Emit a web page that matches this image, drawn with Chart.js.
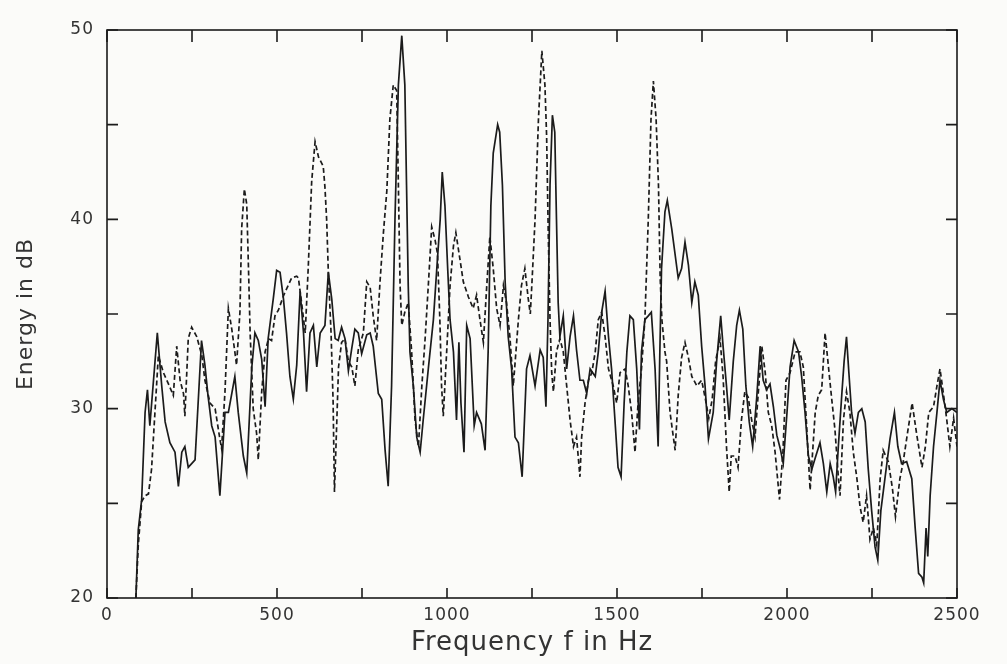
<!DOCTYPE html>
<html lang="en">
<head>
    <meta charset="utf-8" />
    <title>Energy spectrum</title>
    <style>
        html, body {
            margin: 0;
            padding: 0;
            background-color: #fbfbf9;
        }

        #spectrum {
            display: block;
        }
    </style>
</head>
<body>
    <canvas id="spectrum" width="1007" height="664"></canvas>

    <script src="https://cdn.jsdelivr.net/npm/chart.js@4.4.1/dist/chart.umd.min.js"></script>
    <script type="text/JavaScript">

        // solid curve
        var solidFreq = [85, 92, 102, 112, 119, 126, 148, 161, 171, 185, 200, 210, 220, 229, 239, 259, 278, 288, 297, 308,
            318, 332, 347, 357, 376, 386, 401, 411, 426, 435, 445, 455, 465, 474, 489, 499, 509, 519, 528, 538,
            548, 558, 568, 578, 587, 597, 607, 617, 627, 641, 651, 661, 671, 680, 690, 700, 710, 720, 729, 739,
            749, 764, 774, 783, 798, 808, 818, 827, 837, 847, 857, 867, 876, 881, 886, 891, 901, 911, 921, 930,
            945, 960, 970, 980, 986, 994, 1002, 1009, 1019, 1028, 1035, 1041, 1050, 1058, 1068, 1080, 1087, 1101, 1112, 1121,
            1129, 1136, 1149, 1155, 1163, 1171, 1180, 1190, 1200, 1210, 1221, 1234, 1244, 1259, 1274, 1283, 1291, 1297, 1303, 1310,
            1317, 1322, 1327, 1332, 1342, 1352, 1362, 1372, 1381, 1391, 1401, 1411, 1421, 1436, 1445, 1455, 1465, 1475, 1484, 1494,
            1503, 1512, 1521, 1529, 1538, 1548, 1558, 1566, 1572, 1582, 1592, 1601, 1612, 1621, 1626, 1631, 1641, 1648, 1661, 1680,
            1690, 1700, 1710, 1720, 1729, 1739, 1749, 1759, 1769, 1783, 1793, 1805, 1812, 1822, 1830, 1842, 1852, 1860, 1870, 1879,
            1889, 1899, 1911, 1921, 1930, 1940, 1950, 1960, 1970, 1980, 1989, 2000, 2009, 2021, 2034, 2043, 2053, 2063, 2073, 2083,
            2097, 2107, 2117, 2127, 2136, 2143, 2151, 2161, 2168, 2175, 2182, 2190, 2200, 2210, 2220, 2230, 2239, 2249, 2259, 2267,
            2276, 2288, 2303, 2316, 2326, 2337, 2352, 2367, 2377, 2387, 2397, 2402, 2409, 2414, 2421, 2431, 2441, 2450, 2460, 2470,
            2485, 2500];
        var solidDb = [20.0, 23.6, 25.2, 29.8, 31.0, 29.1, 34.0, 31.2, 29.3, 28.2, 27.7, 25.9, 27.7, 28.0, 26.9, 27.3, 33.6, 32.3, 30.7, 29.1,
            28.5, 25.4, 29.8, 29.8, 31.7, 29.8, 27.5, 26.6, 32.2, 34.0, 33.6, 32.6, 30.1, 33.7, 35.8, 37.3, 37.2, 35.8, 34.0, 31.7,
            30.5, 32.3, 36.2, 34.0, 30.9, 34.0, 34.4, 32.2, 34.0, 34.4, 37.2, 35.8, 33.7, 33.6, 34.3, 33.7, 32.0, 33.2, 34.2, 34.0,
            32.9, 33.9, 34.0, 33.3, 30.8, 30.5, 27.8, 25.9, 31.2, 40.0, 47.1, 49.7, 47.1, 41.8, 36.5, 33.0, 31.2, 28.5, 27.7, 29.4,
            32.1, 34.7, 37.4, 40.0, 42.5, 40.7, 37.4, 34.7, 33.0, 29.4, 33.5, 30.3, 27.7, 34.4, 33.7, 29.1, 29.8, 29.2, 27.8, 33.0,
            40.7, 43.5, 45.0, 44.6, 41.8, 36.7, 33.8, 32.1, 28.5, 28.2, 26.4, 32.1, 32.8, 31.2, 33.1, 32.7, 30.1, 34.7, 41.8, 45.5,
            44.6, 40.0, 35.6, 33.8, 34.9, 32.1, 33.8, 34.9, 33.1, 31.5, 31.5, 30.8, 32.1, 31.7, 33.0, 35.1, 36.2, 33.8, 32.1, 29.4,
            26.9, 26.4, 30.3, 33.0, 34.9, 34.7, 32.1, 28.9, 33.0, 34.7, 34.9, 35.1, 32.1, 28.0, 33.0, 37.4, 40.4, 41.0, 39.5, 36.9,
            37.4, 38.8, 37.6, 35.6, 36.7, 36.0, 33.3, 31.2, 28.4, 29.8, 32.5, 34.9, 33.3, 31.2, 29.4, 32.5, 34.4, 35.2, 34.2, 31.2,
            29.3, 28.0, 30.6, 33.3, 31.5, 31.0, 31.3, 30.1, 28.6, 27.9, 27.1, 29.8, 32.2, 33.6, 33.0, 31.7, 29.8, 27.5, 26.8, 27.4,
            28.2, 27.1, 25.6, 27.1, 26.4, 25.6, 28.0, 30.7, 32.5, 33.8, 31.9, 29.8, 28.7, 29.8, 30.0, 29.3, 26.8, 24.6, 22.7, 22.0,
            24.6, 26.3, 28.4, 29.8, 28.0, 27.1, 27.2, 26.3, 23.7, 21.3, 21.1, 20.8, 23.7, 22.2, 25.4, 28.0, 29.8, 31.5, 30.5, 29.8,
            30.0, 29.8];

        // dashed curve
        var dashFreq = [85, 92, 102, 112, 122, 131, 141, 151, 166, 181, 195, 205, 215, 225, 229, 239, 249, 264, 279, 288,
            303, 318, 332, 337, 347, 357, 367, 376, 381, 391, 396, 404, 411, 416, 421, 430, 440, 445, 455, 465,
            475, 484, 494, 504, 520, 543, 558, 563, 573, 583, 592, 602, 612, 622, 636, 641, 646, 651, 659, 665,
            669, 676, 681, 690, 700, 710, 720, 729, 739, 754, 764, 774, 783, 793, 803, 813, 823, 832, 842, 852,
            857, 862, 867, 876, 886, 896, 906, 916, 926, 936, 945, 955, 965, 972, 979, 984, 989, 999, 1009, 1019,
            1026, 1038, 1048, 1063, 1077, 1087, 1097, 1107, 1117, 1126, 1136, 1146, 1156, 1166, 1175, 1185, 1195, 1210, 1219, 1229,
            1239, 1245, 1250, 1259, 1269, 1279, 1288, 1293, 1298, 1303, 1308, 1313, 1322, 1332, 1342, 1352, 1362, 1372, 1381, 1391,
            1396, 1406, 1416, 1426, 1436, 1445, 1455, 1465, 1475, 1489, 1499, 1509, 1524, 1533, 1543, 1553, 1562, 1572, 1582, 1592,
            1600, 1607, 1615, 1622, 1627, 1632, 1641, 1646, 1656, 1671, 1680, 1690, 1700, 1710, 1720, 1735, 1749, 1760, 1770, 1780,
            1790, 1803, 1812, 1822, 1830, 1836, 1847, 1856, 1866, 1876, 1886, 1896, 1906, 1915, 1926, 1936, 1945, 1955, 1965, 1978,
            1988, 1997, 2009, 2024, 2038, 2048, 2058, 2068, 2083, 2092, 2102, 2112, 2122, 2131, 2141, 2151, 2156, 2166, 2175, 2185,
            2195, 2205, 2215, 2224, 2234, 2244, 2254, 2264, 2274, 2283, 2298, 2310, 2319, 2332, 2341, 2356, 2368, 2381, 2397, 2407,
            2417, 2431, 2441, 2450, 2460, 2470, 2479, 2490, 2500];
        var dashDb = [20.0, 22.8, 25.1, 25.4, 25.5, 26.8, 29.8, 32.8, 31.9, 31.3, 30.7, 33.3, 31.5, 30.8, 29.6, 33.7, 34.3, 33.8, 32.8, 31.5,
            30.3, 30.0, 28.4, 27.9, 30.9, 35.3, 34.2, 33.0, 32.3, 35.1, 39.5, 41.6, 40.8, 37.5, 34.0, 30.0, 28.7, 27.3, 30.9, 33.0,
            33.7, 33.6, 34.9, 35.2, 36.0, 36.9, 37.0, 36.9, 35.5, 34.0, 37.5, 42.0, 44.1, 43.3, 42.8, 41.7, 40.0, 37.2, 34.0, 30.4,
            25.6, 29.4, 32.2, 33.5, 33.7, 32.5, 32.2, 31.2, 33.1, 34.0, 36.7, 36.4, 34.9, 33.6, 36.7, 39.3, 41.5, 45.3, 47.1, 46.8,
            41.8, 36.5, 34.4, 35.1, 35.6, 33.0, 29.4, 28.0, 31.2, 33.8, 36.5, 39.6, 38.9, 38.2, 34.7, 31.2, 29.6, 33.0, 36.5, 38.6,
            39.3, 37.9, 36.7, 35.9, 35.3, 36.0, 34.7, 33.5, 36.5, 39.1, 37.4, 35.3, 34.4, 36.5, 35.6, 33.8, 31.2, 34.7, 36.5, 37.4,
            35.8, 35.0, 36.7, 40.0, 45.3, 48.9, 47.1, 44.4, 39.1, 34.7, 31.9, 30.9, 33.0, 33.7, 33.0, 31.2, 29.4, 28.0, 28.5, 26.4,
            28.5, 30.3, 31.5, 31.9, 33.0, 34.7, 35.1, 33.8, 32.1, 31.2, 30.3, 31.9, 32.1, 31.2, 29.8, 27.7, 30.3, 32.1, 34.7, 40.0,
            45.3, 47.3, 45.3, 41.8, 36.9, 34.7, 33.0, 32.5, 29.8, 27.8, 30.7, 32.7, 33.5, 32.7, 31.7, 31.2, 31.5, 30.5, 29.5, 30.5,
            32.5, 33.7, 31.7, 28.0, 25.6, 27.5, 27.5, 26.9, 29.4, 30.9, 30.6, 29.4, 28.5, 30.7, 33.3, 31.9, 29.8, 29.1, 27.7, 25.2,
            27.7, 31.5, 31.9, 33.0, 33.0, 32.2, 29.0, 25.7, 29.8, 30.7, 31.0, 34.0, 32.2, 30.6, 28.9, 26.4, 25.4, 29.4, 30.9, 29.8,
            27.7, 26.4, 24.8, 24.0, 25.4, 23.1, 23.7, 22.8, 26.3, 27.8, 27.2, 25.8, 24.3, 26.3, 27.1, 28.9, 30.3, 28.7, 26.9, 28.0,
            29.8, 30.1, 31.2, 32.1, 30.8, 29.4, 28.0, 29.5, 28.0];

        // labelled ticks
        var xTickLabels = [0, 500, 1000, 1500, 2000, 2500];
        var yTickLabels = [20, 30, 40, 50];

        var toPoints = function (xs, ys) {
            return xs.map(function (f, i) { return { x: f, y: ys[i] }; });
        };

        var inkColor = "#1b1b1b";
        var textColor = "#333333";

        // paper background, box around the plot and inward tick marks
        var framePlugin = {
            id: "framePlugin",
            beforeDraw: function (chart) {
                var ctx = chart.ctx;
                ctx.save();
                ctx.fillStyle = "#fbfbf9";
                ctx.fillRect(0, 0, chart.width, chart.height);
                ctx.restore();
                ctx.letterSpacing = "1px";
            },
            afterDraw: function (chart) {
                var ctx = chart.ctx;
                var a = chart.chartArea;
                var xs = chart.scales.x;
                var ys = chart.scales.y;
                ctx.save();
                ctx.strokeStyle = inkColor;
                ctx.lineWidth = 1.6;
                ctx.strokeRect(a.left, a.top, a.right - a.left, a.bottom - a.top);
                ctx.beginPath();
                xs.ticks.forEach(function (t) {
                    var px = xs.getPixelForValue(t.value);
                    ctx.moveTo(px, a.bottom);
                    ctx.lineTo(px, a.bottom - 10);
                    ctx.moveTo(px, a.top);
                    ctx.lineTo(px, a.top + 12);
                });
                ys.ticks.forEach(function (t) {
                    var py = ys.getPixelForValue(t.value);
                    ctx.moveTo(a.left, py);
                    ctx.lineTo(a.left + 11, py);
                    ctx.moveTo(a.right, py);
                    ctx.lineTo(a.right - 11, py);
                });
                ctx.stroke();
                ctx.restore();
            }
        };

        var spectrumChart = new Chart("spectrum", {
            type: "line",
            data: {
                datasets: [{
                    label: "dashed",
                    data: toPoints(dashFreq, dashDb),
                    borderColor: inkColor,
                    borderWidth: 1.7,
                    borderDash: [5, 3],
                    pointRadius: 0,
                    tension: 0,
                    fill: false
                }, {
                    label: "solid",
                    data: toPoints(solidFreq, solidDb),
                    borderColor: inkColor,
                    borderWidth: 1.7,
                    pointRadius: 0,
                    tension: 0,
                    fill: false
                }]
            },
            options: {
                responsive: false,
                animation: false,
                devicePixelRatio: 1,
                layout: {
                    padding: { left: 0, right: 50, top: 30, bottom: 0 }
                },
                plugins: {
                    legend: { display: false },
                    tooltip: { enabled: false }
                },
                scales: {
                    x: {
                        type: "linear",
                        min: 0,
                        max: 2500,
                        grid: { display: false, drawTicks: false },
                        border: { display: false },
                        ticks: {
                            stepSize: 250,
                            padding: 7,
                            color: textColor,
                            maxRotation: 0,
                            autoSkip: false,
                            font: { family: "DejaVu Sans", size: 17 },
                            callback: function (value) {
                                return xTickLabels.indexOf(value) >= 0 ? String(value) : "";
                            }
                        },
                        title: {
                            display: true,
                            text: "Frequency f in Hz",
                            color: textColor,
                            font: { family: "DejaVu Sans", size: 26 },
                            padding: { top: 0, bottom: 5 }
                        },
                        afterFit: function (scale) {
                            scale.height = 66;
                        }
                    },
                    y: {
                        min: 20,
                        max: 50,
                        grid: { display: false, drawTicks: false },
                        border: { display: false },
                        ticks: {
                            stepSize: 5,
                            padding: 13,
                            color: textColor,
                            autoSkip: false,
                            font: { family: "DejaVu Sans", size: 17 },
                            callback: function (value) {
                                return yTickLabels.indexOf(value) >= 0 ? String(value) : "";
                            }
                        },
                        title: {
                            display: true,
                            text: "Energy in dB",
                            color: textColor,
                            font: { family: "DejaVu Sans", size: 22 },
                            padding: { top: 13, bottom: 0 }
                        },
                        afterFit: function (scale) {
                            scale.width = 107;
                        }
                    }
                }
            },
            plugins: [framePlugin]
        });

    </script>
</body>
</html>
